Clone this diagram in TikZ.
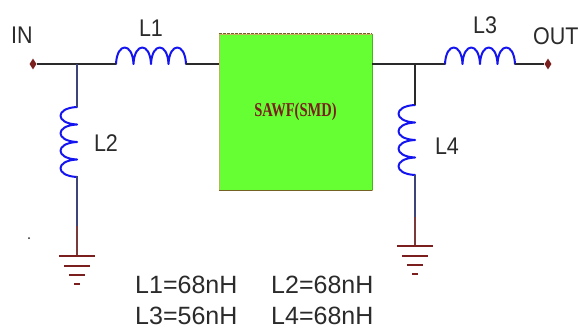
\documentclass[tikz,border=0pt]{standalone}
\usepackage{fontspec}
\usetikzlibrary{shapes.geometric}
\setmainfont{Liberation Sans}
\newfontfamily\sawfont{Liberation Serif}
\definecolor{wirec}{HTML}{2A2A2A}
\definecolor{wireb}{HTML}{3C4478}
\definecolor{wirer}{HTML}{7A3A3A}
\definecolor{gndc}{HTML}{7A1E1E}
\definecolor{coilc}{HTML}{1414F0}
\definecolor{boxc}{HTML}{66FF33}
\definecolor{txtc}{HTML}{2B2B2B}
\tikzset{
  wire/.style={draw=wirec,line width=1.9pt},
  wireblue/.style={draw=wireb,line width=1.7pt},
  wirered/.style={draw=wirer,line width=1.7pt},
  gnd/.style={draw=gndc,line width=1.9pt},
  coil/.style={draw=coilc,line width=2pt,line cap=round,line join=round},
  lab/.style={font=\fontsize{21.5}{22}\selectfont,text=txtc,inner sep=0pt},
  val/.style={font=\fontsize{25}{25}\selectfont,text=txtc,inner sep=0pt,anchor=base west},
  term/.style={diamond,fill=gndc,inner sep=0pt,minimum width=7pt,minimum height=11pt,aspect=0.6},
  pics/hcoil/.style={code={
    \draw[coil] (0,0)
      .. controls (1,-22) and (16.5,-22) .. (17.5,0)
      .. controls (18.5,-22) and (34,-22) .. (35,0)
      .. controls (36,-22) and (51.5,-22) .. (52.5,0)
      .. controls (53.5,-22) and (69,-22) .. (70,0);
  }},
  pics/vcoil/.style={code={
    \draw[coil] (0,0)
      .. controls (-22,1) and (-22,16.5) .. (0,17.5)
      .. controls (-22,18.5) and (-22,34) .. (0,35)
      .. controls (-22,36) and (-22,51.5) .. (0,52.5)
      .. controls (-22,53.5) and (-22,69) .. (0,70);
  }},
  pics/ground/.style={code={
    \draw[gnd] (-18,0) -- (18,0);
    \draw[gnd] (-13,10) -- (13,10);
    \draw[gnd] (-8,19) -- (8,19);
    \draw[gnd] (-3,28) -- (3,28);
  }},
}
\begin{document}
\begin{tikzpicture}[x=1pt,y=-1pt]
\useasboundingbox (0,0) rectangle (579,329);
\clip (0,0) rectangle (579,329);
\fill[white] (0,0) rectangle (579,329);

% SAW filter
\node[fill=boxc,draw=red!45!boxc!70!white,line width=0.8pt,minimum width=153pt,minimum height=156pt,inner sep=0pt,
  font={\sawfont\bfseries\fontsize{14.5}{15}\selectfont},text=gndc] (saw) at (295.5,112) {\scalebox{1}[1.35]{SAWF(SMD)}};
\draw[draw=gndc!70!boxc,line width=1.2pt,dashed,dash pattern=on 3pt off 1pt] (saw.north west) -- (saw.north east);
\draw[draw=gndc!70!boxc,line width=1.4pt] (saw.south west) -- (saw.south east);
\draw[draw=boxc!70!black,line width=0.9pt] (saw.north east) -- (saw.south east);

% terminals and junctions
\node[term] (in) at (33,64) {};
\node[term] (out) at (548,64) {};
\coordinate (j1) at (77,64);
\coordinate (j2) at (415,64);
\coordinate (L1a) at (116,64);
\coordinate (L1b) at (186,64);
\coordinate (L3a) at (445,64);
\coordinate (L3b) at (515,64);
\coordinate (L2a) at (77,107);
\coordinate (L2b) at (77,176);
\coordinate (L4a) at (415,105);
\coordinate (L4b) at (415,175);
\coordinate (g1m) at (77,226);
\coordinate (g2m) at (415,217);
\coordinate (g1) at (77,256);
\coordinate (g2) at (415,246);
\coordinate (sawl) at (saw.west |- j1);
\coordinate (sawr) at (saw.east |- j2);

% coils
\pic at (L1a) {hcoil};
\pic at (L3a) {hcoil};
\pic at (L2a) {vcoil};
\pic at (L4a) {vcoil};

% wires
\draw[wire] (in) -- (j1) -- (L1a);
\draw[wire] (L1b) -- (sawl);
\draw[wire] (sawr) -- (j2) -- (L3a);
\draw[wire] (L3b) -- (out);
\draw[wireblue] (j1) -- (L2a);
\draw[wire] (j2) -- (L4a);
\draw[wireblue] (L2b) -- (g1m);
\draw[wirered] (g1m) -- (g1);
\draw[wireblue] (L4b) -- (g2m);
\draw[wirered] (g2m) -- (g2);

% grounds
\pic at (g1) {ground};
\pic at (g2) {ground};

% stray dot
\fill[wirec] (29,238) circle (1pt);

% labels
\node[lab] (tin) at (22,35) {\scalebox{1}[1.12]{IN}};
\node[lab] (tl1) at (151,28) {\scalebox{1}[1.12]{L1}};
\node[lab] (tl2) at (106,143) {\scalebox{1}[1.12]{L2}};
\node[lab] (tl3) at (485,25) {\scalebox{1}[1.12]{L3}};
\node[lab] (tl4) at (447,146) {\scalebox{1}[1.12]{L4}};
\node[lab,anchor=west] (tout) at (533,36) {\scalebox{1}[1.12]{OUT}};
\node[val] (v1) at (135,293) {L1=68nH};
\node[val] (v2) at (271,293) {L2=68nH};
\node[val] (v3) at (135,324) {L3=56nH};
\node[val] (v4) at (271,324) {L4=68nH};
\end{tikzpicture}
\end{document}
